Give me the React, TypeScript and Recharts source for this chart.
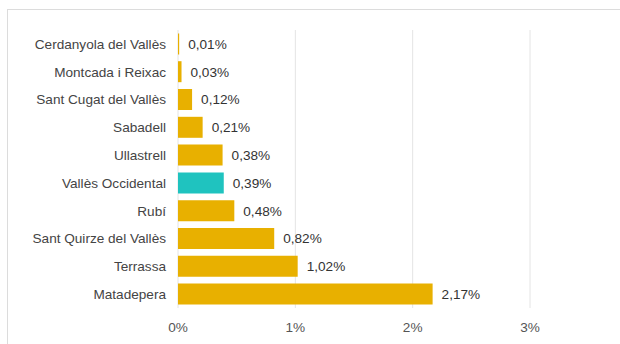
import React from "react";
import { Bar, BarChart, CartesianGrid, Cell, LabelList, XAxis, YAxis } from "recharts";

const municipis = [
  "Cerdanyola del Vallès",
  "Montcada i Reixac",
  "Sant Cugat del Vallès",
  "Sabadell",
  "Ullastrell",
  "Vallès Occidental",
  "Rubí",
  "Sant Quirze del Vallès",
  "Terrassa",
  "Matadepera",
];
const percentatges = [0.01, 0.03, 0.12, 0.21, 0.38, 0.39, 0.48, 0.82, 1.02, 2.17];
const xTicks = [0, 1, 2, 3];
const comarca = "Vallès Occidental";

const data = municipis.map((nom, i) => ({ nom, valor: percentatges[i] }));

const gold = "#E8B000";
const teal = "#1FC3BF";

const fmtValor = (v: number) => `${v.toFixed(2).replace(".", ",")}%`;

export default function App() {
  return (
    <div
      style={{
        position: "fixed",
        left: 0,
        top: 0,
        width: 620,
        height: 344,
        overflow: "hidden",
        background: "#fff",
        fontFamily: "'Liberation Sans', Arial, sans-serif",
      }}
    >
      <div
        style={{
          position: "absolute",
          left: 7,
          top: 9,
          width: 700,
          height: 400,
          border: "1px solid #dcdcdc",
        }}
      />
      <div style={{ position: "absolute", left: 0, top: 0 }}>
        <BarChart
          layout="vertical"
          width={620}
          height={344}
          data={data}
          margin={{ top: 30, right: 90, bottom: 0, left: 0 }}
          barCategoryGap={3.4}
        >
          <CartesianGrid horizontal={false} stroke="#e4e4e4" />
          <XAxis
            type="number"
            domain={[0, 3]}
            ticks={xTicks}
            axisLine={false}
            tickLine={false}
            tickMargin={8}
            height={36}
            tickFormatter={(v) => `${v}%`}
            tick={{ fill: "#555", fontSize: 13.6 }}
          />
          <YAxis
            type="category"
            dataKey="nom"
            width={178}
            axisLine={false}
            tickLine={false}
            tickMargin={6}
            interval={0}
            tick={{ fill: "#444", fontSize: 13.6 }}
          />
          <Bar dataKey="valor" isAnimationActive={false}>
            {data.map((d) => (
              <Cell key={d.nom} fill={d.nom === comarca ? teal : gold} />
            ))}
            <LabelList
              dataKey="valor"
              position="right"
              offset={9}
              formatter={(v: any) => fmtValor(Number(v))}
              style={{ fill: "#333", fontSize: 13.6 }}
            />
          </Bar>
        </BarChart>
      </div>
    </div>
  );
}
